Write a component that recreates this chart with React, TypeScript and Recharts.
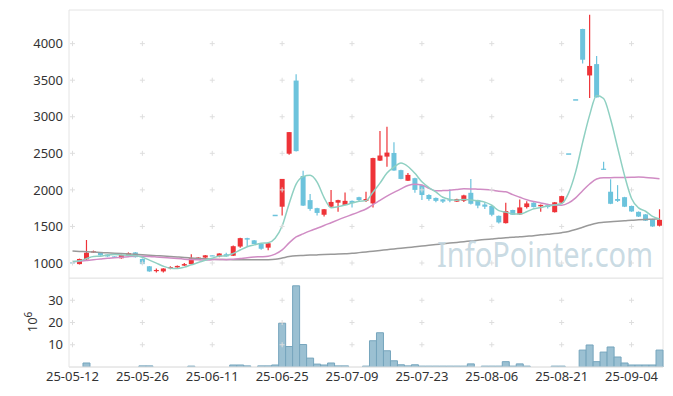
import React from 'react';
import { ComposedChart, Bar, Line, XAxis, YAxis, ReferenceDot, ReferenceArea } from 'recharts';

const dates = [
  '25-05-12','25-05-13','25-05-14','25-05-15','25-05-16','25-05-19','25-05-20','25-05-21','25-05-22','25-05-23',
  '25-05-26','25-05-27','25-05-28','25-05-29','25-05-30','25-06-02','25-06-04','25-06-05','25-06-09','25-06-10',
  '25-06-11','25-06-12','25-06-13','25-06-16','25-06-17','25-06-18','25-06-19','25-06-20','25-06-23','25-06-24',
  '25-06-25','25-06-26','25-06-27','25-06-30','25-07-01','25-07-02','25-07-03','25-07-04','25-07-07','25-07-08',
  '25-07-09','25-07-10','25-07-11','25-07-14','25-07-15','25-07-16','25-07-17','25-07-18','25-07-21','25-07-22',
  '25-07-23','25-07-24','25-07-25','25-07-28','25-07-29','25-07-30','25-07-31','25-08-01','25-08-04','25-08-05',
  '25-08-06','25-08-07','25-08-08','25-08-11','25-08-12','25-08-13','25-08-14','25-08-18','25-08-19','25-08-20',
  '25-08-21','25-08-22','25-08-25','25-08-26','25-08-27','25-08-28','25-08-29','25-09-01','25-09-02','25-09-03',
  '25-09-04','25-09-05','25-09-08','25-09-09','25-09-10',
];

const opens = [
  1010, 985, 1050, 1150, 1145, 1115, 1090, 1065, 1105, 1145,
  1055, 955, 890, 885, 930, 940, 965, 985, 1045, 1075,
  1105, 1090, 1120, 1100, 1225, 1340, 1310, 1260, 1210, 1650,
  1770, 2495, 3495, 2190, 1860, 1750, 1660, 1770, 1825, 1795,
  1850, 1900, 1850, 1815, 2400, 2455, 2505, 2270, 2125, 2160,
  2065, 1930, 1890, 1870, 1870, 1840, 1850, 1960, 1860, 1800,
  1780, 1645, 1545, 1725, 1665, 1765, 1825, 1775, 1790, 1695,
  1825, 2490, 3230, 4200, 3565, 3720, 2290, 1975, 1875, 1900,
  1780, 1700, 1665, 1600, 1510,
];
const highs = [
  1015, 1060, 1315, 1170, 1150, 1120, 1092, 1115, 1145, 1150,
  1060, 960, 925, 930, 955, 965, 1000, 1120, 1080, 1110,
  1105, 1135, 1140, 1240, 1345, 1345, 1315, 1262, 1275, 1650,
  2150, 2790, 3580, 2260, 1945, 1755, 1740, 2000, 1865, 1965,
  1855, 1905, 1975, 2440, 2805, 2865, 2650, 2275, 2230, 2165,
  2070, 1940, 1895, 1875, 2010, 1880, 1935, 2150, 1865, 1830,
  1785, 1650, 1825, 1730, 1870, 1845, 1830, 1800, 1810, 1835,
  1920, 2490, 3230, 4205, 4395, 3830, 2385, 2145, 2065, 1905,
  1785, 1705, 1670, 1605, 1735,
];
const lows = [
  995, 980, 1030, 1140, 1100, 1085, 1083, 1060, 1100, 1075,
  980, 880, 870, 870, 915, 935, 960, 980, 1040, 1045,
  1100, 1080, 1085, 1095, 1210, 1225, 1255, 1180, 1175, 1650,
  1650, 2480, 2525, 1780, 1715, 1650, 1635, 1765, 1700, 1790,
  1760, 1845, 1835, 1760, 2395, 2315, 2260, 2145, 2120, 1960,
  1860, 1850, 1830, 1820, 1830, 1835, 1835, 1800, 1750, 1740,
  1640, 1540, 1540, 1655, 1655, 1745, 1760, 1700, 1745, 1690,
  1810, 2490, 3230, 3730, 3255, 3265, 2280, 1805, 1835, 1765,
  1700, 1630, 1575, 1495, 1500,
];
const closes = [
  1000, 1055, 1140, 1160, 1105, 1090, 1085, 1110, 1135, 1080,
  985, 885, 905, 925, 945, 960, 985, 1065, 1075, 1105,
  1100, 1130, 1090, 1230, 1340, 1320, 1260, 1195, 1270, 1650,
  2150, 2790, 2530, 1785, 1740, 1685, 1735, 1835, 1860, 1850,
  1820, 1860, 1875, 2435, 2470, 2510, 2265, 2150, 2205, 2000,
  1930, 1875, 1850, 1840, 1855, 1875, 1925, 1810, 1785, 1770,
  1660, 1555, 1710, 1660, 1760, 1815, 1765, 1795, 1765, 1830,
  1915, 2490, 3230, 3780, 3695, 3265, 2280, 1810, 1850, 1770,
  1705, 1635, 1580, 1500, 1590,
];
const ma5 = [
  1020, 1030, 1060, 1090, 1092, 1110, 1116, 1110, 1105, 1100,
  1079, 1039, 998, 956, 929, 924, 944, 976, 1006, 1038,
  1066, 1095, 1100, 1131, 1178, 1222, 1248, 1269, 1277, 1339,
  1505, 1811, 2078, 2181, 2199, 2106, 1895, 1756, 1771, 1793,
  1820, 1845, 1853, 1968, 2092, 2230, 2311, 2366, 2320, 2226,
  2110, 2032, 1972, 1899, 1870, 1859, 1869, 1861, 1850, 1833,
  1790, 1716, 1696, 1671, 1669, 1700, 1742, 1759, 1780, 1794,
  1814, 1959, 2246, 2649, 3022, 3292, 3250, 2966, 2580, 2195,
  1883, 1754, 1708, 1638, 1602,
];
const ma20 = [
  1018, 1025, 1035, 1045, 1055, 1065, 1072, 1080, 1087, 1092,
  1093, 1090, 1083, 1075, 1068, 1060, 1053, 1048, 1044, 1040,
  1045, 1049, 1046, 1050, 1061, 1073, 1082, 1086, 1093, 1121,
  1179, 1275, 1356, 1399, 1439, 1475, 1512, 1551, 1590, 1627,
  1663, 1700, 1739, 1799, 1856, 1915, 1966, 2013, 2060, 2078,
  2067, 2021, 1987, 1990, 1995, 2005, 2014, 2013, 2009, 2005,
  1997, 1982, 1974, 1935, 1900, 1865, 1840, 1822, 1800, 1792,
  1791, 1822, 1891, 1988, 2080, 2149, 2167, 2167, 2170, 2170,
  2172, 2176, 2170, 2162, 2153,
];
const ma60 = [
  1164, 1159, 1154, 1149, 1144, 1139, 1134, 1129, 1124, 1119,
  1113, 1107, 1101, 1095, 1089, 1083, 1077, 1070, 1063, 1057,
  1052, 1049, 1047, 1046, 1045, 1045, 1044, 1044, 1045, 1050,
  1068, 1088, 1100, 1104, 1108, 1111, 1115, 1119, 1123, 1127,
  1132, 1142, 1152, 1162, 1172, 1182, 1192, 1202, 1212, 1222,
  1232, 1242, 1252, 1262, 1272, 1282, 1292, 1302, 1312, 1320,
  1329, 1338, 1345, 1352, 1360, 1366, 1372, 1385, 1393, 1402,
  1415, 1432, 1458, 1490, 1520, 1545, 1556, 1565, 1572, 1578,
  1585, 1590, 1595, 1600, 1605,
];
const volumes = [
  0, 0, 1.8, 0, 0, 0, 0, 0, 0, 0,
  0.5, 0.5, 0, 0, 0, 0, 0, 0.4, 0, 0,
  0, 0, 0, 0.9, 0.9, 0.5, 0, 0.5, 0.5, 0.9,
  19.7, 9.2, 36.5, 10.1, 4.0, 1.3, 0.9, 1.8, 0.5, 0.5,
  0, 0, 0.4, 11.8, 15.4, 7.3, 2.8, 1.0, 0.5, 1.0,
  0.4, 0.4, 0.4, 0.4, 0.4, 0.4, 0.4, 1.4, 0, 0.4,
  0.4, 0.4, 2.4, 0.4, 1.4, 0.4, 0, 0, 0, 0.4,
  0.4, 0, 0, 7.6, 9.9, 2.4, 6.7, 9.0, 4.5, 1.8,
  0.9, 0.9, 0.9, 0.9, 7.6,
];

const dateTicks = ['25-05-12','25-05-26','25-06-11','25-06-25','25-07-09','25-07-23','25-08-06','25-08-21','25-09-04'];
const priceTicks = [1000, 1500, 2000, 2500, 3000, 3500, 4000];
const volTicks = [10, 20, 30];

const RED = '#ee3338';
const BLUE = '#6cc3dc';
const FONT = '"Noto Sans", sans-serif';
const GRID = '#dedede';
const FRAME = '#e4e4e4';

const data = dates.map((d, i) => ({
  date: d,
  open: opens[i],
  high: highs[i],
  low: lows[i],
  close: closes[i],
  range: [lows[i], highs[i]],
  ma5: ma5[i],
  ma20: ma20[i],
  ma60: ma60[i],
  vol: volumes[i],
}));

const Candle = (props: any) => {
  const { x, y, width, height, payload } = props;
  if (x == null || y == null || !payload) return null;
  const { open, close, high, low } = payload;
  const color = close > open ? RED : BLUE;
  const top = Math.min(y, y + (height || 0));
  const h = Math.abs(height || 0);
  const cx = x + width / 2;
  if (high === low || h === 0) {
    return <rect x={x} y={top - 0.75} width={width} height={1.5} fill={color} />;
  }
  const k = h / (high - low);
  const yO = top + (high - open) * k;
  const yC = top + (high - close) * k;
  const bTop = Math.min(yO, yC);
  const bH = Math.max(1.2, Math.abs(yO - yC));
  return (
    <g>
      <line x1={cx} x2={cx} y1={top} y2={top + h} stroke={color} strokeWidth={1.2} />
      <rect x={x} y={bTop} width={width} height={bH} fill={color} />
    </g>
  );
};

const Cross = (p: any) => {
  if (p.cx == null || p.cy == null) return null;
  return <path d={`M${p.cx - 2.5},${p.cy}h5M${p.cx},${p.cy - 2.5}v5`} stroke={GRID} strokeWidth={1} />;
};

const tickStyle = { fontSize: 13, fill: '#333', fontFamily: FONT };

export default function App() {
  return (
    <div style={{ position: 'absolute', left: 0, top: 0, width: 673, height: 396, background: '#fff' }}>
      <div style={{ position: 'absolute', left: 0, top: 0 }}>
        <ComposedChart width={673} height={280} data={data} margin={{ top: 10, right: 10, bottom: 2, left: 9 }} barCategoryGap={0}>
          <XAxis dataKey="date" hide />
          <YAxis
            domain={[795, 4460]}
            ticks={priceTicks}
            allowDataOverflow
            axisLine={false}
            tickLine={false}
            tickSize={0}
            tickMargin={6}
            width={60}
            tick={tickStyle}
          />
          <ReferenceArea y1={795} y2={4460} fill="none" fillOpacity={0} stroke={FRAME} strokeWidth={1} />
          {dateTicks.flatMap((d) =>
            priceTicks.map((v) => (
              <ReferenceDot key={`g-${d}-${v}`} x={d} y={v} r={3} shape={Cross} />
            ))
          )}
          <Bar dataKey="range" barSize={5} shape={Candle} isAnimationActive={false} />
          <Line type="monotone" dataKey="ma60" stroke="#999999" strokeWidth={1.5} dot={false} isAnimationActive={false} />
          <Line type="monotone" dataKey="ma20" stroke="#d08cc4" strokeWidth={1.5} dot={false} isAnimationActive={false} />
          <Line type="monotone" dataKey="ma5" stroke="#8fd0c2" strokeWidth={1.5} dot={false} isAnimationActive={false} />
        </ComposedChart>
      </div>
      <div style={{ position: 'absolute', left: 0, top: 278 }}>
        <ComposedChart width={673} height={118} data={data} margin={{ top: 0, right: 10, bottom: 0, left: 9 }} barCategoryGap={0}>
          <XAxis
            dataKey="date"
            ticks={dateTicks}
            interval={0}
            axisLine={{ stroke: FRAME }}
            tickLine={false}
            tickSize={0}
            tickMargin={5}
            height={29}
            tick={tickStyle}
          />
          <YAxis
            domain={[0, 40]}
            ticks={volTicks}
            allowDataOverflow
            axisLine={false}
            tickLine={false}
            tickSize={0}
            tickMargin={6}
            width={60}
            tick={tickStyle}
          />
          <ReferenceArea y1={0} y2={40} fill="none" fillOpacity={0} stroke={FRAME} strokeWidth={1} />
          {dateTicks.flatMap((d) =>
            volTicks.map((v) => (
              <ReferenceDot key={`v-${d}-${v}`} x={d} y={v} r={3} shape={Cross} />
            ))
          )}
          <Bar dataKey="vol" fill="#9bc0d2" stroke="#76a5bd" strokeWidth={1} isAnimationActive={false} />
        </ComposedChart>
      </div>
      <svg width={673} height={396} style={{ position: 'absolute', left: 0, top: 0, pointerEvents: 'none' }}>
        <g transform="translate(437,267) scale(1,1.18)">
          <text x={0} y={0} fontFamily={FONT} fontSize={29} fill="#c3d6e0" fillOpacity={0.9}>
            InfoPointer.com
          </text>
        </g>
        <text transform="translate(37,322) rotate(-90)" fontFamily={FONT} fontSize={13} fill="#333" textAnchor="middle">
          10<tspan dy={-5} fontSize={10}>6</tspan>
        </text>
      </svg>
    </div>
  );
}
